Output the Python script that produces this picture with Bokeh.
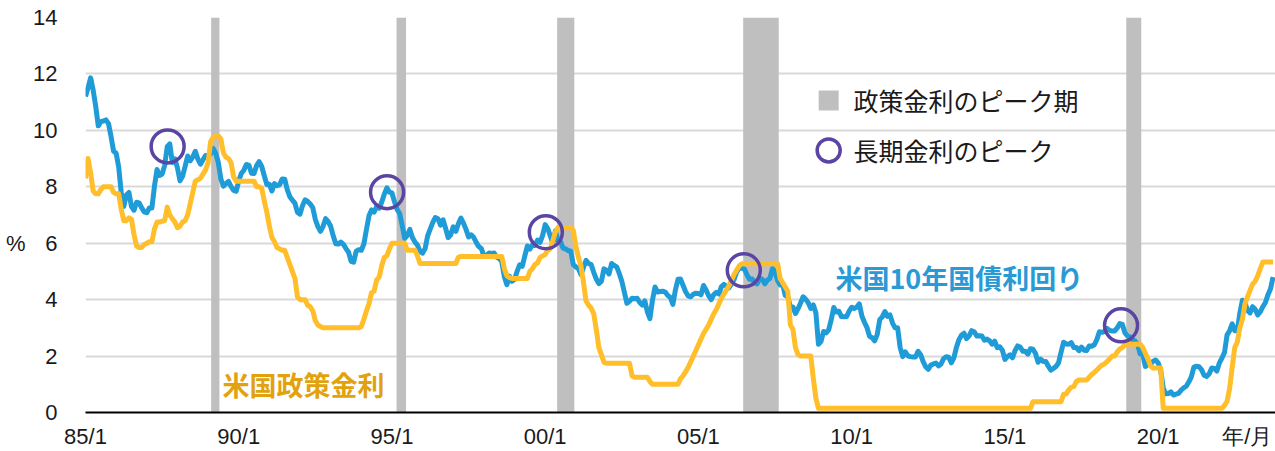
from bokeh.plotting import figure
from bokeh.models import FixedTicker, Label, LinearAxis
from bokeh.embed import file_html
from bokeh.resources import INLINE

# ---------------- data (monthly, Jan 1985 - Oct 2023) ----------------
start_year = 1985

us10y = [
    11.20, 11.51, 11.86, 11.43, 10.85, 10.16, 10.31, 10.33, 10.37, 10.24, 9.78, 9.26,   # 1985
    9.19, 8.70, 7.78, 7.30, 7.71, 7.80, 7.30, 7.17, 7.45, 7.43, 7.25, 7.11,            # 1986
    7.08, 7.25, 7.25, 8.02, 8.61, 8.40, 8.45, 8.76, 9.42, 9.52, 8.86, 8.99,            # 1987
    8.67, 8.21, 8.37, 8.72, 9.09, 8.92, 9.06, 9.26, 8.98, 8.80, 8.96, 9.11,            # 1988
    9.09, 9.17, 9.36, 9.18, 8.86, 8.28, 8.02, 8.11, 8.19, 8.01, 7.87, 7.84,            # 1989
    8.21, 8.47, 8.59, 8.79, 8.76, 8.48, 8.47, 8.75, 8.89, 8.72, 8.39, 8.08,            # 1990
    8.09, 7.85, 8.11, 8.04, 8.07, 8.28, 8.27, 7.90, 7.65, 7.53, 7.42, 7.09,            # 1991
    7.03, 7.34, 7.54, 7.48, 7.39, 7.26, 6.84, 6.59, 6.42, 6.59, 6.87, 6.77,            # 1992
    6.60, 6.26, 5.98, 5.97, 6.04, 5.96, 5.81, 5.68, 5.36, 5.33, 5.72, 5.77,            # 1993
    5.75, 5.97, 6.48, 6.97, 7.18, 7.10, 7.30, 7.24, 7.46, 7.74, 7.96, 7.81,            # 1994
    7.78, 7.47, 7.20, 7.06, 6.63, 6.17, 6.28, 6.49, 6.20, 6.04, 5.93, 5.71,            # 1995
    5.65, 5.81, 6.27, 6.51, 6.74, 6.91, 6.87, 6.64, 6.83, 6.53, 6.20, 6.30,            # 1996
    6.58, 6.42, 6.69, 6.89, 6.71, 6.49, 6.22, 6.30, 6.21, 6.03, 5.88, 5.81,            # 1997
    5.54, 5.57, 5.65, 5.64, 5.65, 5.50, 5.46, 5.34, 4.81, 4.53, 4.83, 4.65,            # 1998
    4.72, 5.00, 5.23, 5.18, 5.54, 5.90, 5.79, 5.94, 5.92, 6.11, 6.03, 6.28,            # 1999
    6.66, 6.52, 6.26, 5.99, 6.44, 6.10, 6.05, 5.83, 5.80, 5.74, 5.72, 5.24,            # 2000
    5.16, 5.10, 4.89, 5.14, 5.39, 5.28, 5.24, 4.97, 4.73, 4.57, 4.65, 5.09,            # 2001
    5.04, 4.91, 5.28, 5.21, 5.16, 4.93, 4.65, 4.26, 3.87, 3.94, 4.05, 4.03,            # 2002
    4.05, 3.90, 3.81, 3.96, 3.57, 3.33, 3.98, 4.45, 4.27, 4.29, 4.30, 4.27,            # 2003
    4.15, 4.08, 3.83, 4.35, 4.72, 4.73, 4.50, 4.28, 4.13, 4.10, 4.19, 4.23,            # 2004
    4.22, 4.17, 4.50, 4.34, 4.14, 4.00, 4.18, 4.26, 4.20, 4.46, 4.54, 4.47,            # 2005
    4.42, 4.57, 4.72, 4.99, 5.11, 5.11, 5.09, 4.88, 4.72, 4.73, 4.60, 4.56,            # 2006
    4.76, 4.72, 4.56, 4.69, 4.75, 5.10, 5.00, 4.67, 4.52, 4.53, 4.15, 4.10,            # 2007
    3.74, 3.74, 3.51, 3.68, 3.88, 4.10, 4.01, 3.89, 3.69, 3.81, 3.53, 2.42,            # 2008
    2.52, 2.87, 2.82, 2.93, 3.29, 3.72, 3.56, 3.59, 3.40, 3.39, 3.40, 3.59,            # 2009
    3.73, 3.69, 3.73, 3.85, 3.42, 3.20, 3.01, 2.70, 2.65, 2.54, 2.76, 3.29,            # 2010
    3.39, 3.58, 3.41, 3.46, 3.17, 3.00, 3.00, 2.30, 1.98, 2.15, 2.01, 1.98,            # 2011
    1.97, 1.97, 2.17, 2.05, 1.80, 1.62, 1.53, 1.68, 1.72, 1.75, 1.65, 1.72,            # 2012
    1.91, 1.98, 1.96, 1.76, 1.93, 2.30, 2.58, 2.74, 2.81, 2.62, 2.72, 2.90,            # 2013
    2.86, 2.71, 2.72, 2.71, 2.56, 2.60, 2.54, 2.42, 2.53, 2.30, 2.33, 2.21,            # 2014
    1.88, 1.98, 2.04, 1.94, 2.20, 2.36, 2.32, 2.17, 2.17, 2.07, 2.26, 2.24,            # 2015
    2.09, 1.78, 1.89, 1.81, 1.81, 1.64, 1.50, 1.56, 1.63, 1.76, 2.14, 2.49,            # 2016
    2.43, 2.42, 2.48, 2.30, 2.30, 2.19, 2.32, 2.21, 2.20, 2.36, 2.35, 2.40,            # 2017
    2.58, 2.86, 2.84, 2.87, 2.98, 2.91, 2.89, 2.89, 3.00, 3.15, 3.12, 2.83,            # 2018
    2.71, 2.68, 2.57, 2.53, 2.40, 2.07, 2.06, 1.63, 1.70, 1.71, 1.81, 1.86,            # 2019
    1.76, 1.50, 0.87, 0.66, 0.67, 0.73, 0.62, 0.65, 0.68, 0.79, 0.87, 0.93,            # 2020
    1.08, 1.26, 1.61, 1.64, 1.62, 1.52, 1.32, 1.28, 1.37, 1.58, 1.56, 1.47,            # 2021
    1.76, 1.93, 2.13, 2.75, 2.90, 3.14, 2.90, 2.90, 3.52, 3.98, 3.89, 3.62,            # 2022
    3.53, 3.75, 3.66, 3.46, 3.57, 3.75, 3.90, 4.17, 4.38, 4.80,                        # 2023
]

policy_rate = [
    8.30, 9.00, 8.50, 7.85, 7.75, 7.75, 7.90, 8.00, 8.00, 8.00, 8.00, 7.80,            # 1985
    7.75, 7.75, 7.20, 6.80, 6.80, 6.90, 6.85, 6.30, 5.90, 5.85, 5.85, 5.95,            # 1986
    6.00, 6.05, 6.05, 6.50, 6.75, 6.75, 6.78, 6.80, 7.28, 7.00, 6.87, 6.75,            # 1987
    6.55, 6.60, 6.75, 6.80, 7.00, 7.40, 7.80, 8.20, 8.25, 8.30, 8.45, 8.60,            # 1988
    8.85, 9.60, 9.75, 9.80, 9.80, 9.70, 9.20, 9.05, 9.00, 8.85, 8.35, 8.20,            # 1989
    8.20, 8.20, 8.20, 8.20, 8.20, 8.20, 8.20, 8.00, 8.00, 7.95, 7.50, 7.10,            # 1990
    6.60, 6.20, 6.05, 5.85, 5.80, 5.75, 5.75, 5.50, 5.25, 5.00, 4.75, 4.10,            # 1991
    4.00, 4.00, 4.00, 3.80, 3.75, 3.60, 3.25, 3.10, 3.05, 3.00, 3.00, 3.00,            # 1992
    3.00, 3.00, 3.00, 3.00, 3.00, 3.00, 3.00, 3.00, 3.00, 3.00, 3.00, 3.00,            # 1993
    3.05, 3.30, 3.60, 3.85, 4.25, 4.30, 4.70, 4.80, 5.20, 5.50, 5.55, 5.80,            # 1994
    6.00, 6.00, 6.00, 6.00, 6.00, 6.00, 5.75, 5.75, 5.75, 5.75, 5.55, 5.28,            # 1995
    5.28, 5.28, 5.28, 5.28, 5.28, 5.28, 5.28, 5.28, 5.28, 5.28, 5.28, 5.28,            # 1996
    5.28, 5.28, 5.50, 5.53, 5.53, 5.53, 5.53, 5.53, 5.53, 5.53, 5.53, 5.53,            # 1997
    5.53, 5.53, 5.53, 5.53, 5.53, 5.53, 5.53, 5.53, 5.10, 4.85, 4.78, 4.75,            # 1998
    4.75, 4.75, 4.75, 4.75, 4.75, 4.75, 5.00, 5.10, 5.25, 5.30, 5.50, 5.55,            # 1999
    5.60, 5.75, 5.80, 6.10, 6.40, 6.55, 6.55, 6.55, 6.55, 6.55, 6.55, 6.45,            # 2000
    5.90, 5.50, 5.20, 4.60, 3.95, 3.80, 3.70, 3.50, 2.95, 2.30, 2.05, 1.78,            # 2001
    1.75, 1.75, 1.75, 1.75, 1.75, 1.75, 1.75, 1.75, 1.75, 1.75, 1.30, 1.25,            # 2002
    1.25, 1.25, 1.25, 1.25, 1.25, 1.10, 1.00, 1.00, 1.00, 1.00, 1.00, 1.00,            # 2003
    1.00, 1.00, 1.00, 1.00, 1.00, 1.20, 1.30, 1.45, 1.60, 1.80, 2.00, 2.20,            # 2004
    2.40, 2.60, 2.80, 2.95, 3.10, 3.30, 3.50, 3.65, 3.85, 4.05, 4.20, 4.35,            # 2005
    4.50, 4.70, 4.90, 5.05, 5.20, 5.27, 5.27, 5.27, 5.27, 5.27, 5.27, 5.27,            # 2006
    5.27, 5.27, 5.27, 5.27, 5.27, 5.27, 5.27, 5.27, 4.75, 4.60, 4.45, 4.30,            # 2007
    3.10, 2.95, 2.30, 2.05, 2.00, 2.00, 2.00, 2.00, 2.00, 1.20, 0.50, 0.15,            # 2008
    0.15, 0.15, 0.15, 0.15, 0.15, 0.15, 0.15, 0.15, 0.15, 0.15, 0.15, 0.15,            # 2009
    0.15, 0.15, 0.15, 0.15, 0.15, 0.15, 0.15, 0.15, 0.15, 0.15, 0.15, 0.15,            # 2010
    0.15, 0.15, 0.15, 0.15, 0.15, 0.15, 0.15, 0.15, 0.15, 0.15, 0.15, 0.15,            # 2011
    0.15, 0.15, 0.15, 0.15, 0.15, 0.15, 0.15, 0.15, 0.15, 0.15, 0.15, 0.15,            # 2012
    0.15, 0.15, 0.15, 0.15, 0.15, 0.15, 0.15, 0.15, 0.15, 0.15, 0.15, 0.15,            # 2013
    0.15, 0.15, 0.15, 0.15, 0.15, 0.15, 0.15, 0.15, 0.15, 0.15, 0.15, 0.15,            # 2014
    0.15, 0.15, 0.15, 0.15, 0.15, 0.15, 0.15, 0.15, 0.15, 0.15, 0.15, 0.38,            # 2015
    0.38, 0.38, 0.38, 0.38, 0.38, 0.38, 0.38, 0.38, 0.38, 0.38, 0.38, 0.65,            # 2016
    0.66, 0.80, 0.90, 0.92, 1.10, 1.15, 1.15, 1.15, 1.15, 1.25, 1.35, 1.42,            # 2017
    1.50, 1.60, 1.68, 1.72, 1.80, 1.90, 2.00, 2.00, 2.15, 2.25, 2.30, 2.40,            # 2018
    2.42, 2.42, 2.42, 2.42, 2.42, 2.42, 2.30, 2.10, 1.90, 1.65, 1.58, 1.58,            # 2019
    1.58, 1.58, 0.15, 0.15, 0.15, 0.15, 0.15, 0.15, 0.15, 0.15, 0.15, 0.15,            # 2020
    0.15, 0.15, 0.15, 0.15, 0.15, 0.15, 0.15, 0.15, 0.15, 0.15, 0.15, 0.15,            # 2021
    0.15, 0.15, 0.25, 0.40, 0.85, 1.60, 2.30, 2.50, 3.00, 3.30, 3.85, 4.10,            # 2022
    4.33, 4.55, 4.65, 4.85, 5.10, 5.33, 5.33, 5.33, 5.33, 5.33,                        # 2023
]

# policy-rate peak periods (decimal years)
band_start = [1989.10, 1995.15, 2000.39, 2006.46, 2018.96]
band_end = [1989.37, 1995.46, 2000.95, 2007.62, 2019.45]

# long-term rate peaks
peak_x = [1987.68, 1994.84, 2000.02, 2006.48, 2018.79]
peak_y = [9.43, 7.81, 6.39, 5.04, 3.09]

tick_years = [1985, 1990, 1995, 2000, 2005, 2010, 2015, 2020]
tick_labels = ["85/1", "90/1", "95/1", "00/1", "05/1", "10/1", "15/1", "20/1"]
x_unit_text = "年/月"
y_ticks = [0, 2, 4, 6, 8, 10, 12, 14]
y_unit_text = "%"

months = [start_year + i / 12 for i in range(len(us10y))]

# ---------------- styling ----------------
BLUE = "#1F9BD7"
GOLD = "#FFBE2A"
GOLD_TEXT = "#E2A20E"
BLUE_TEXT = "#2A9AD6"
GRAY = "#BFBFBF"
PURPLE = "#5B45A3"
TXT = "#1a1a1a"
JP = "Noto Sans CJK JP"

p = figure(width=1275, height=451, x_range=(1985, 2023.83), y_range=(0, 14),
           output_backend="svg", toolbar_location=None,
           min_border_left=85, min_border_right=0, min_border_top=17, min_border_bottom=39)
p.outline_line_color = None
p.background_fill_color = "white"

# bands (policy-rate peaks)
p.quad(left=band_start, right=band_end, bottom=0, top=14, fill_color=GRAY, line_color=None)

# series
p.line(months, us10y, line_color=BLUE, line_width=5, line_join="round")
p.line(months, policy_rate, line_color=GOLD, line_width=5, line_join="round")

# peak circles
p.scatter(peak_x, peak_y, marker="circle", size=33, fill_color=None,
          line_color=PURPLE, line_width=3.5)

# legend (manual)
leg_x = 2009.25
leg_text_x = 2010.06
p.scatter([leg_x], [11.06], marker="square", size=20, fill_color=GRAY, line_color=None)
p.scatter([leg_x], [9.29], marker="circle", size=23, fill_color=None,
          line_color=PURPLE, line_width=3.5)
p.add_layout(Label(x=leg_text_x, y=11.06, text="政策金利のピーク期", text_font=JP,
                   text_font_size="25px", text_baseline="middle", text_color=TXT))
p.add_layout(Label(x=leg_text_x, y=9.29, text="長期金利のピーク", text_font=JP,
                   text_font_size="25px", text_baseline="middle", text_color=TXT))

# series labels
p.add_layout(Label(x=1989.47, y=0.99, text="米国政策金利", text_font=JP,
                   text_font_size="27px", text_font_style="bold",
                   text_baseline="middle", text_color=GOLD_TEXT))
p.add_layout(Label(x=2009.47, y=4.79, text="米国10年国債利回り", text_font=JP,
                   text_font_size="27px", text_font_style="bold",
                   text_baseline="middle", text_color=BLUE_TEXT))

# x axis (with the "年/月" unit as an extra tick label at the right end)
unit_tick_x = 2022.91
p.xaxis.ticker = FixedTicker(ticks=tick_years + [unit_tick_x])
overrides = {t: l for t, l in zip(tick_years, tick_labels)}
overrides[unit_tick_x] = x_unit_text
p.xaxis.major_label_overrides = overrides
p.xaxis.axis_line_color = "black"
p.xaxis.axis_line_width = 2
p.xaxis.major_tick_line_color = None
p.xaxis.minor_tick_line_color = None
p.xaxis.major_label_standoff = 5
p.xaxis.major_label_text_font = "Liberation Sans"
p.xaxis.major_label_text_font_size = "22px"
p.xaxis.major_label_text_color = TXT

# y axis
p.yaxis.ticker = FixedTicker(ticks=y_ticks)
p.yaxis.axis_line_color = None
p.yaxis.major_tick_line_color = None
p.yaxis.minor_tick_line_color = None
p.yaxis.major_label_standoff = 22
p.yaxis.major_label_text_font = "Liberation Sans"
p.yaxis.major_label_text_font_size = "22px"
p.yaxis.major_label_text_color = TXT

# outer left axis carrying the "%" unit next to the 6 level
unit_axis = LinearAxis(ticker=FixedTicker(ticks=[6]),
                       major_label_overrides={6: y_unit_text},
                       axis_line_color=None, major_tick_line_color=None,
                       minor_tick_line_color=None, major_tick_out=0, major_tick_in=0,
                       minor_tick_out=0, minor_tick_in=0, major_label_standoff=5,
                       major_label_text_font="Liberation Sans",
                       major_label_text_font_size="22px",
                       major_label_text_color=TXT)
p.add_layout(unit_axis, "left")

p.xgrid.visible = False
p.ygrid.grid_line_color = "#D9D9D9"
p.ygrid.grid_line_width = 2

open("out.html", "w").write(file_html(p, INLINE))
